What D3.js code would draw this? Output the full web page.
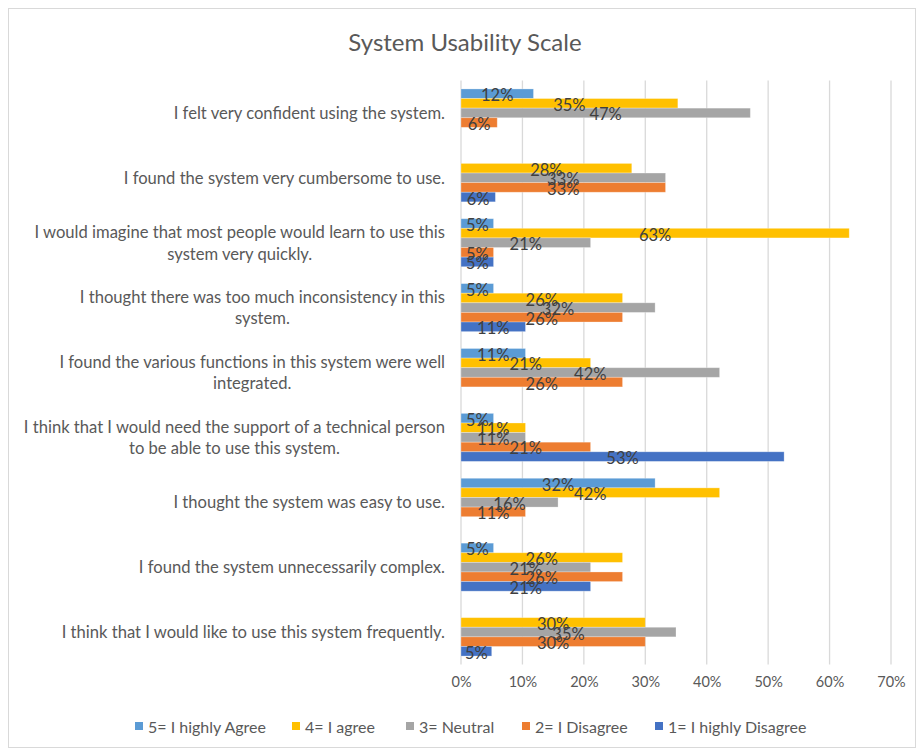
<!DOCTYPE html>
<html>
<head>
<meta charset="utf-8">
<script src="https://cdn.jsdelivr.net/npm/d3@7"></script>
<style>
  html, body { margin: 0; padding: 0; background: #fff; }
  svg { display: block; font-family: Lato, "Open Sans", sans-serif; }
</style>
</head>
<body>
<svg id="chart" width="918" height="751"></svg>
<script>
const categories = [
  "I felt very confident using the system.",
  "I found the system very cumbersome to use.",
  "I would imagine that most people would learn to use this\nsystem very quickly.",
  "I thought there was too much inconsistency in this\nsystem.",
  "I found the various functions in this system were well\nintegrated.",
  "I think that I would need the support of a technical person\nto be able to use this system.",
  "I thought the system was easy to use.",
  "I found the system unnecessarily complex.",
  "I think that I would like to use this system frequently."
];
const seriesNames = ["5= I highly Agree", "4= I agree", "3= Neutral", "2= I Disagree", "1= I highly Disagree"];
const seriesColors = ["#5B9BD5", "#FFC000", "#A5A5A5", "#ED7D31", "#4472C4"];
// values in percent (null = no response in that category)
const highlyAgree    = [11.8, null, 5.3, 5.3, 10.5, 5.3, 31.6, 5.3, null];
const agree          = [35.3, 27.8, 63.2, 26.3, 21.1, 10.5, 42.1, 26.3, 30];
const neutral        = [47.1, 33.3, 21.1, 31.6, 42.1, 10.5, 15.8, 21.1, 35];
const disagree       = [5.9, 33.3, 5.3, 26.3, 26.3, 21.1, 10.5, 26.3, 30];
const highlyDisagree = [null, 5.6, 5.3, 10.5, null, 52.6, null, 21.1, 5];
const seriesValues = [highlyAgree, agree, neutral, disagree, highlyDisagree];
const xTicks = [0, 10, 20, 30, 40, 50, 60, 70];
const title = "System Usability Scale";

const svg = d3.select("#chart");

// outer border
svg.append("rect").attr("x", 8.5).attr("y", 8.5).attr("width", 907).attr("height", 739)
  .attr("fill", "#fff").attr("stroke", "#d9d9d9").attr("stroke-width", 1);

const plot = { left: 461, right: 891, top: 80.5, bottom: 664.5 };

const x = d3.scaleLinear().domain([0, 70]).range([plot.left, plot.right]);
const y = d3.scaleBand().domain(categories).range([plot.top, plot.bottom])
  .paddingInner(0.26).paddingOuter(0.13);
const ySub = d3.scaleBand().domain(seriesNames).range([0, y.bandwidth()]).padding(0);

// title
svg.append("text").attr("x", 465).attr("y", 41).attr("text-anchor", "middle")
  .attr("dominant-baseline", "central").attr("font-size", 24).attr("fill", "#595959")
  .text(title);

// gridlines
svg.append("g").selectAll("line").data(xTicks).join("line")
  .attr("x1", d => x(d)).attr("x2", d => x(d))
  .attr("y1", plot.top).attr("y2", plot.bottom)
  .attr("stroke", "#d9d9d9").attr("stroke-width", 1.3);

// x axis tick labels via d3 axis
const xAxis = d3.axisBottom(x).tickValues(xTicks).tickFormat(d => d + "%").tickSize(0).tickPadding(0);
const gx = svg.append("g").attr("transform", `translate(0,${plot.bottom})`).call(xAxis);
gx.select(".domain").remove();
gx.selectAll("text").attr("font-family", "Lato, 'Open Sans', sans-serif").attr("font-size", 14.5)
  .attr("fill", "#595959").attr("dy", null).attr("y", 17).attr("dominant-baseline", "central");

// bars
const flat = [];
categories.forEach((c, ci) => {
  seriesNames.forEach((s, si) => {
    const v = seriesValues[si][ci];
    if (v !== null && v !== undefined) flat.push({ c, s, si, v });
  });
});

svg.append("g").selectAll("rect").data(flat).join("rect")
  .attr("x", x(0))
  .attr("y", d => y(d.c) + ySub(d.s))
  .attr("width", d => x(d.v) - x(0))
  .attr("height", ySub.bandwidth())
  .attr("fill", d => seriesColors[d.si])
  .attr("stroke", "#ffffff").attr("stroke-opacity", 0.35).attr("stroke-width", 0.8);

// data labels
svg.append("g").selectAll("text").data(flat).join("text")
  .attr("x", d => (x(0) + x(d.v)) / 2)
  .attr("y", d => y(d.c) + ySub(d.s) + ySub.bandwidth() / 2 + 1.5)
  .attr("text-anchor", "middle").attr("dominant-baseline", "central")
  .attr("font-size", 16.5).attr("fill", "#404040")
  .text(d => Math.round(d.v) + "%");

// category labels
const labelRight = 445;
const lineH = 21.6;
const catG = svg.append("g");
categories.forEach(c => {
  const lines = c.split("\n");
  const g = catG.append("g");
  const texts = lines.map((ln, i) => g.append("text")
    .attr("y", y(c) + y.bandwidth() / 2 + (i - (lines.length - 1) / 2) * lineH)
    .attr("dominant-baseline", "central").attr("text-anchor", "middle")
    .attr("font-size", 16.6).attr("fill", "#595959").text(ln));
  const maxW = d3.max(texts, t => t.node().getComputedTextLength());
  texts.forEach(t => t.attr("x", labelRight - maxW / 2));
});

// legend
const legendX = [135, 292, 406, 522, 655];
const legend = svg.append("g");
seriesNames.forEach((s, i) => {
  legend.append("rect").attr("x", legendX[i]).attr("y", 722).attr("width", 8).attr("height", 8)
    .attr("fill", seriesColors[i]);
  legend.append("text").attr("x", legendX[i] + 13).attr("y", 726.5)
    .attr("dominant-baseline", "central").attr("font-size", 16).attr("fill", "#595959").text(s);
});
</script>
</body>
</html>
